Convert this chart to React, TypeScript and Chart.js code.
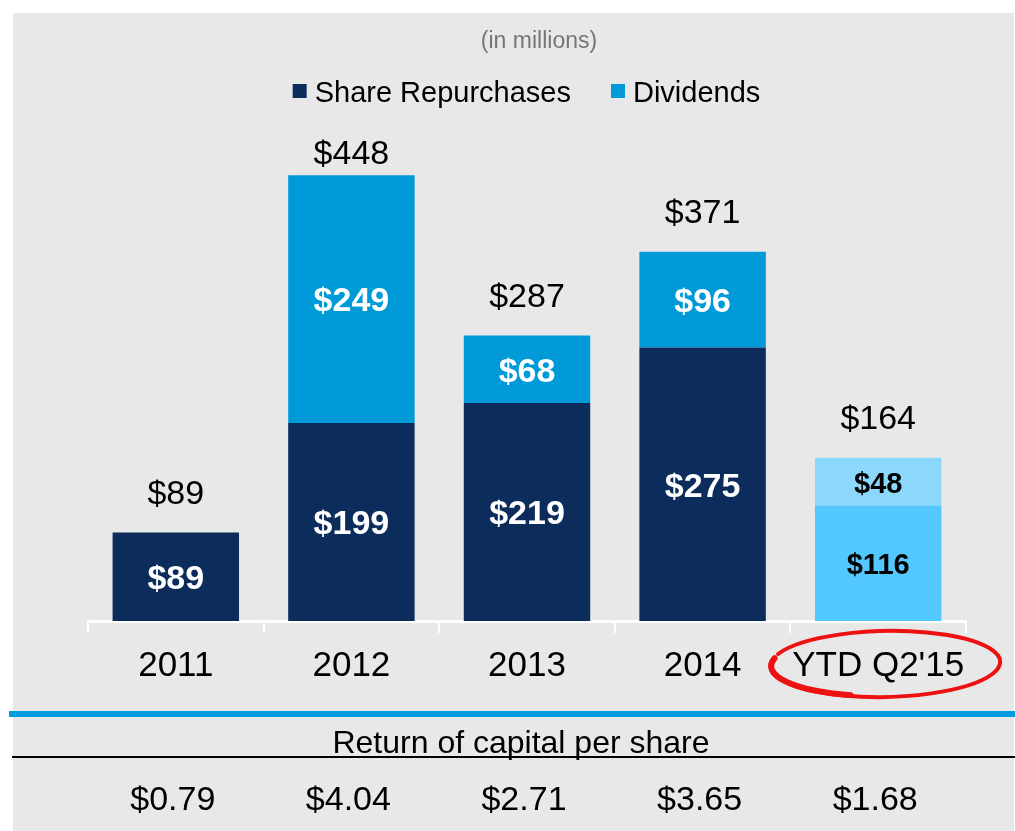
import { useEffect, useRef } from "react";
import { Chart, registerables } from "chart.js";

Chart.register(...registerables);

// ---- data ----
const categories = ["2011", "2012", "2013", "2014", "YTD Q2'15"];
const shareRepurchases = [89, 199, 219, 275, 116];
const dividends = [0, 249, 68, 96, 48];
const perShareLabels = ["$0.79", "$4.04", "$2.71", "$3.65", "$1.68"];
const seriesNames = ["Share Repurchases", "Dividends"];
const unitNote = "(in millions)";
const tableTitle = "Return of capital per share";
const yMax = 600;

// ---- styles ----
const FONT = '"Liberation Sans", Arial, Helvetica, sans-serif';
const NAVY = "#0c2d5c";
const BLUE = "#009ad9";
const YTD_LOW = "#52c8ff";
const YTD_HIGH = "#8cd8fd";
const PANEL = "#e8e8e8";
const repColors = [NAVY, NAVY, NAVY, NAVY, YTD_LOW];
const divColors = [BLUE, BLUE, BLUE, BLUE, YTD_HIGH];
const segLabelColors = ["#ffffff", "#ffffff", "#ffffff", "#ffffff", "#000000"];
const segLabelSizes = [34, 34, 34, 34, 29];

const fmt = (v: number) => "$" + v;

const backgroundPlugin = {
  id: "bgPanel",
  beforeDraw(chart: any) {
    const ctx = chart.ctx;
    ctx.save();
    ctx.fillStyle = "#ffffff";
    ctx.fillRect(0, 0, chart.width, chart.height);
    ctx.fillStyle = PANEL;
    ctx.fillRect(13, 13, 1001, chart.height - 13);
    ctx.restore();
  },
};

const labelsPlugin = {
  id: "barLabels",
  afterDatasetsDraw(chart: any) {
    const ctx = chart.ctx;
    ctx.save();
    ctx.textAlign = "center";
    ctx.textBaseline = "middle";
    const metas = [chart.getDatasetMeta(0), chart.getDatasetMeta(1)];
    const values = [shareRepurchases, dividends];
    metas.forEach((meta: any, d: number) => {
      meta.data.forEach((bar: any, i: number) => {
        const v = values[d][i];
        if (!v) return;
        ctx.fillStyle = segLabelColors[i];
        ctx.font = `bold ${segLabelSizes[i]}px ${FONT}`;
        ctx.fillText(fmt(v), bar.x, (bar.y + bar.base) / 2 + 3);
      });
    });
    // totals
    ctx.fillStyle = "#000000";
    ctx.font = `34px ${FONT}`;
    categories.forEach((_, i) => {
      const total = shareRepurchases[i] + dividends[i];
      const top = chart.scales.y.getPixelForValue(total);
      const x = chart.scales.x.getPixelForValue(i);
      ctx.fillText(fmt(total), x, Math.max(top - 38, 155));
    });
    ctx.restore();
  },
};

const decorPlugin = {
  id: "decor",
  afterDraw(chart: any) {
    const ctx = chart.ctx;
    ctx.save();
    // unit note
    ctx.textAlign = "center";
    ctx.textBaseline = "middle";
    ctx.fillStyle = "#767676";
    ctx.font = `23px ${FONT}`;
    ctx.fillText(unitNote, 539, 42);

    // legend
    ctx.font = `29px ${FONT}`;
    const colors = [NAVY, BLUE];
    const box = 14, gapText = 8, gapItem = 40;
    const widths = seriesNames.map((n) => ctx.measureText(n).width);
    const total = widths.reduce((a, w) => a + box + gapText + w, 0) + gapItem;
    let x = 526.5 - total / 2;
    const ly = 91;
    ctx.textAlign = "left";
    seriesNames.forEach((n, k) => {
      ctx.fillStyle = colors[k];
      ctx.fillRect(x, ly - 7, box, box);
      x += box + gapText;
      ctx.fillStyle = "#000000";
      ctx.fillText(n, x, ly + 3);
      x += widths[k] + gapItem;
    });

    // table separator lines
    ctx.fillStyle = "#009cde";
    ctx.fillRect(9, 711, chart.width - 9, 6);
    ctx.fillStyle = "#000000";
    ctx.fillRect(12, 756, chart.width - 12, 2);

    // table title
    ctx.textAlign = "center";
    ctx.font = `32px ${FONT}`;
    ctx.fillText(tableTitle, 521, 744);

    // per-share values
    ctx.font = `34px ${FONT}`;
    perShareLabels.forEach((t, i) => {
      const px = chart.scales.x.getPixelForValue(i) - 3;
      ctx.fillText(t, px, 801);
    });

    // red ellipse around the YTD label
    const ex = chart.scales.x.getPixelForValue(categories.length - 1) + 7;
    ctx.strokeStyle = "#ee1111";
    ctx.lineCap = "round";
    ctx.lineWidth = 4;
    ctx.beginPath();
    ctx.ellipse(ex, 664, 115, 33, -0.02, Math.PI * 1.12, Math.PI * 3.08);
    ctx.stroke();
    ctx.lineWidth = 6;
    ctx.beginPath();
    ctx.ellipse(ex, 664, 114, 32, -0.02, Math.PI * 0.6, Math.PI * 1.08);
    ctx.stroke();
    ctx.restore();
  },
};

export default function App() {
  const ref = useRef<HTMLCanvasElement>(null);
  useEffect(() => {
    const chart = new Chart(ref.current as HTMLCanvasElement, {
      type: "bar",
      data: {
        labels: categories,
        datasets: [
          {
            label: seriesNames[0],
            data: shareRepurchases,
            backgroundColor: repColors,
            borderWidth: 0,
            barPercentage: 0.72,
            categoryPercentage: 1,
          },
          {
            label: seriesNames[1],
            data: dividends,
            backgroundColor: divColors,
            borderWidth: 0,
            barPercentage: 0.72,
            categoryPercentage: 1,
          },
        ],
      },
      options: {
        responsive: false,
        animation: false,
        devicePixelRatio: 1,
        layout: { padding: { left: 88, right: 49, top: 24, bottom: 0 } },
        plugins: {
          legend: { display: false },
          tooltip: { enabled: false },
          title: { display: false },
        },
        scales: {
          x: {
            stacked: true,
            offset: true,
            grid: {
              display: true,
              drawOnChartArea: false,
              drawTicks: true,
              tickLength: 12,
              color: "#ffffff",
              lineWidth: 2,
              offset: true,
            },
            border: { display: true, color: "#ffffff", width: 3 },
            ticks: {
              color: "#000000",
              font: { family: FONT, size: 35 },
              padding: 12,
              maxRotation: 0,
              autoSkip: false,
            },
            afterFit: (s: any) => {
              s.height = 210;
            },
          },
          y: {
            stacked: true,
            min: 0,
            max: yMax,
            display: false,
          },
        },
      },
      plugins: [backgroundPlugin, labelsPlugin, decorPlugin],
    } as any);
    return () => chart.destroy();
  }, []);
  return (
    <div style={{ position: "fixed", left: 0, top: 0, width: 1015, height: 831, background: "#fff" }}>
      <canvas ref={ref} width={1015} height={831} style={{ display: "block", width: 1015, height: 831 }} />
    </div>
  );
}
